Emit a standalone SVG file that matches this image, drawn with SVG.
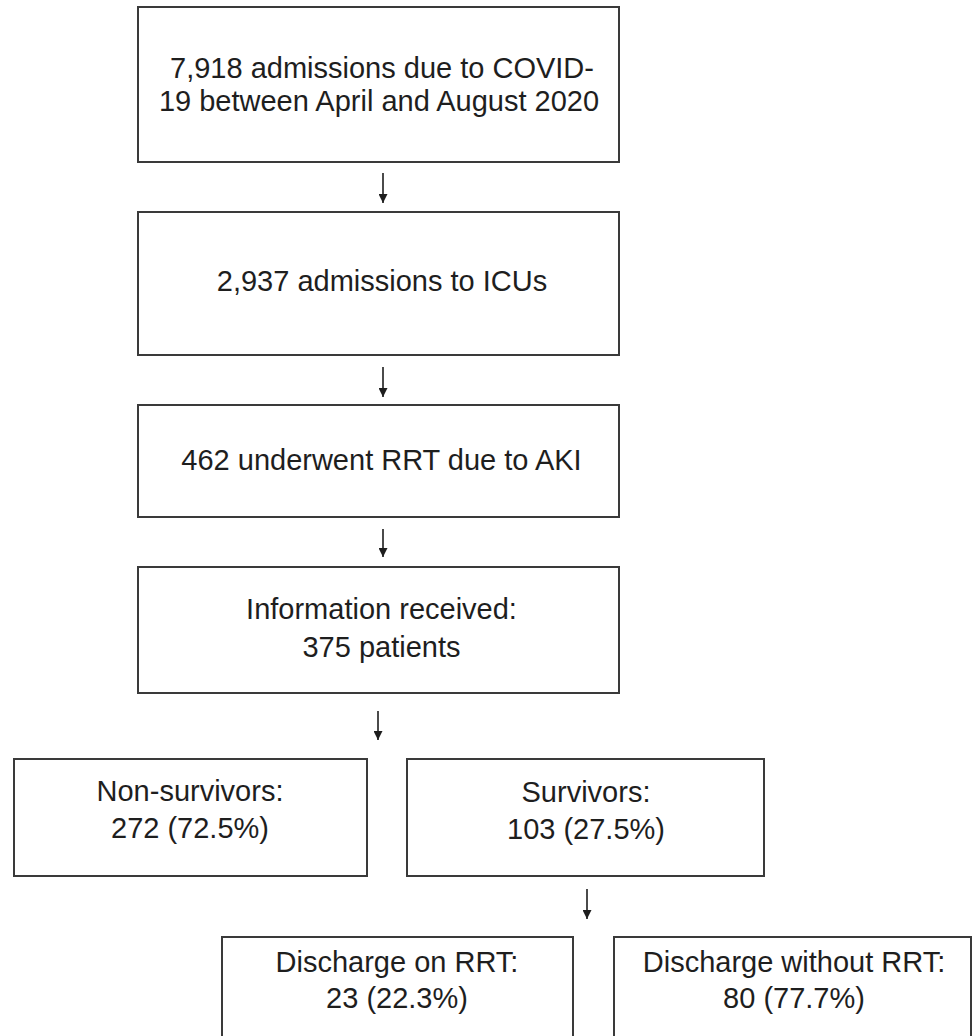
<svg xmlns="http://www.w3.org/2000/svg" width="972" height="1036" viewBox="0 0 972 1036">
<style>
.box{fill:#fff;stroke:#3a3a3a;stroke-width:2}
.t{font-family:"Liberation Sans",Arial,sans-serif;font-size:29px;fill:#1e1e1e;text-anchor:middle}
.c{stroke:#1e1e1e;stroke-width:1.6;fill:none;marker-end:url(#ah)}
</style>
<defs>
<marker id="ah" markerUnits="userSpaceOnUse" markerWidth="9" markerHeight="9" viewBox="0 0 10 10" refX="10" refY="5" orient="auto">
<path d="M0,0 L10,5 L0,10 Z" fill="#1e1e1e"/>
</marker>
</defs>
<rect width="972" height="1036" fill="#fff"/>
<g id="connectors">
<line class="c" x1="383" y1="173" x2="383" y2="203"/>
<line class="c" x1="383" y1="367" x2="383" y2="397"/>
<line class="c" x1="383" y1="529" x2="383" y2="557"/>
<line class="c" x1="378" y1="711" x2="378" y2="740"/>
<line class="c" x1="587" y1="889" x2="587" y2="919"/>
</g>
<g id="n1">
<rect class="box" x="138" y="7" width="481" height="155"/>
<text class="t" x="382" y="78">7,918 admissions due to COVID-</text>
<text class="t" x="379" y="111">19 between April and August 2020</text>
</g>
<g id="n2">
<rect class="box" x="138" y="212" width="481" height="143"/>
<text class="t" x="382" y="291">2,937 admissions to ICUs</text>
</g>
<g id="n3">
<rect class="box" x="138" y="405" width="481" height="112"/>
<text class="t" x="381.5" y="470">462 underwent RRT due to AKI</text>
</g>
<g id="n4">
<rect class="box" x="138" y="567" width="481" height="126"/>
<text class="t" x="381.5" y="619">Information received:</text>
<text class="t" x="381.5" y="657">375 patients</text>
</g>
<g id="n5">
<rect class="box" x="14" y="759" width="353" height="117"/>
<text class="t" x="190" y="801">Non-survivors:</text>
<text class="t" x="190" y="838">272 (72.5%)</text>
</g>
<g id="n6">
<rect class="box" x="407" y="759" width="357" height="117"/>
<text class="t" x="586" y="802">Survivors:</text>
<text class="t" x="586" y="839">103 (27.5%)</text>
</g>
<g id="n7">
<rect class="box" x="222" y="937" width="351" height="110"/>
<text class="t" x="397" y="972">Discharge on RRT:</text>
<text class="t" x="397" y="1008">23 (22.3%)</text>
</g>
<g id="n8">
<rect class="box" x="614" y="937" width="357" height="110"/>
<text class="t" x="794" y="972">Discharge without RRT:</text>
<text class="t" x="794" y="1008">80 (77.7%)</text>
</g>
</svg>
